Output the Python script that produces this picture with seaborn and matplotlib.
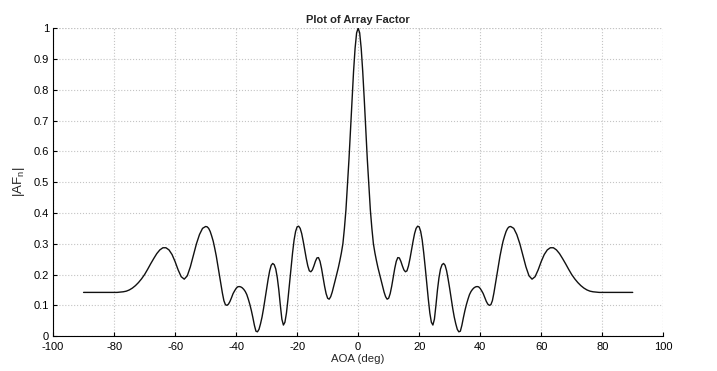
import matplotlib
matplotlib.use("Agg")
import matplotlib.pyplot as plt
import seaborn as sns
import pandas as pd

# Angle of arrival (deg) and |AF_n|
aoa_deg = [
    -90, -88, -86, -84, -82,
    -80, -79, -78, -77, -76, -75, -74, -73, -72, -71,
    -70, -69, -68, -67, -66, -65, -64, -63, -62, -61,
    -60, -59, -58, -57, -56, -55, -54, -53, -52, -51,
    -50, -49.5, -49, -48.5, -48, -47.5, -47, -46.5, -46, -45.5,
    -45, -44.5, -44, -43.5, -43, -42.5, -42, -41.5, -41, -40.5,
    -40, -39.5, -39, -38.5, -38, -37.5, -37, -36.5, -36, -35.5,
    -35, -34.5, -34, -33.5, -33, -32.5, -32, -31.5, -31, -30.5,
    -30, -29.5, -29, -28.5, -28, -27.5, -27, -26.5, -26, -25.5,
    -25, -24.5, -24, -23.5, -23, -22.5, -22, -21.5, -21, -20.5,
    -20, -19.5, -19, -18.5, -18, -17.5, -17, -16.5, -16, -15.5,
    -15, -14.5, -14, -13.5, -13, -12.5, -12, -11.5, -11, -10.5,
    -10, -9.5, -9, -8.5, -8, -7.5, -7, -6.5, -6, -5.5,
    -5, -4.5, -4, -3.5, -3, -2.5, -2, -1.5, -1, -0.5,
    0,
    0.5, 1, 1.5, 2, 2.5, 3, 3.5, 4, 4.5, 5,
    5.5, 6, 6.5, 7, 7.5, 8, 8.5, 9, 9.5, 10,
    10.5, 11, 11.5, 12, 12.5, 13, 13.5, 14, 14.5, 15,
    15.5, 16, 16.5, 17, 17.5, 18, 18.5, 19, 19.5, 20,
    20.5, 21, 21.5, 22, 22.5, 23, 23.5, 24, 24.5, 25,
    25.5, 26, 26.5, 27, 27.5, 28, 28.5, 29, 29.5, 30,
    30.5, 31, 31.5, 32, 32.5, 33, 33.5, 34, 34.5, 35,
    35.5, 36, 36.5, 37, 37.5, 38, 38.5, 39, 39.5, 40,
    40.5, 41, 41.5, 42, 42.5, 43, 43.5, 44, 44.5, 45,
    45.5, 46, 46.5, 47, 47.5, 48, 48.5, 49, 49.5, 50,
    51, 52, 53, 54, 55, 56, 57, 58, 59, 60,
    61, 62, 63, 64, 65, 66, 67, 68, 69, 70,
    71, 72, 73, 74, 75, 76, 77, 78, 79, 80,
    82, 84, 86, 88, 90,
]
af_mag = [
    0.142, 0.142, 0.142, 0.142, 0.142,
    0.142, 0.142, 0.143, 0.144, 0.146, 0.150, 0.156, 0.164, 0.174, 0.186,
    0.200, 0.217, 0.235, 0.252, 0.268, 0.280, 0.287, 0.287, 0.280, 0.265,
    0.242, 0.215, 0.193, 0.185, 0.196, 0.225, 0.262, 0.300, 0.330, 0.350,
    0.356, 0.355, 0.350, 0.340, 0.325, 0.308, 0.285, 0.260, 0.230, 0.200,
    0.170, 0.140, 0.115, 0.102, 0.100, 0.104, 0.113, 0.125, 0.138, 0.147,
    0.155, 0.160, 0.161, 0.160, 0.157, 0.152, 0.145, 0.135, 0.120, 0.103,
    0.083, 0.060, 0.035, 0.016, 0.014, 0.022, 0.040, 0.062, 0.090, 0.122,
    0.155, 0.185, 0.212, 0.230, 0.236, 0.232, 0.218, 0.190, 0.150, 0.100,
    0.055, 0.036, 0.045, 0.075, 0.120, 0.170, 0.222, 0.270, 0.312, 0.340,
    0.355, 0.357, 0.350, 0.333, 0.308, 0.280, 0.252, 0.228, 0.212, 0.209,
    0.215, 0.228, 0.243, 0.254, 0.255, 0.243, 0.220, 0.190, 0.162, 0.138,
    0.123, 0.120, 0.128, 0.143, 0.162, 0.182, 0.202, 0.222, 0.245, 0.270,
    0.300, 0.350, 0.410, 0.490, 0.575, 0.670, 0.770, 0.860, 0.935, 0.985,
    1.000,
    0.985, 0.935, 0.860, 0.770, 0.670, 0.575, 0.490, 0.410, 0.350, 0.300,
    0.270, 0.245, 0.222, 0.202, 0.182, 0.162, 0.143, 0.128, 0.120, 0.123,
    0.138, 0.162, 0.190, 0.220, 0.243, 0.255, 0.254, 0.243, 0.228, 0.215,
    0.209, 0.212, 0.228, 0.252, 0.280, 0.308, 0.333, 0.350, 0.357, 0.355,
    0.340, 0.312, 0.270, 0.222, 0.170, 0.120, 0.075, 0.045, 0.036, 0.055,
    0.100, 0.150, 0.190, 0.218, 0.232, 0.236, 0.230, 0.212, 0.185, 0.155,
    0.122, 0.090, 0.062, 0.040, 0.022, 0.014, 0.016, 0.035, 0.060, 0.083,
    0.103, 0.120, 0.135, 0.145, 0.152, 0.157, 0.160, 0.161, 0.160, 0.155,
    0.147, 0.138, 0.125, 0.113, 0.104, 0.100, 0.102, 0.115, 0.140, 0.170,
    0.200, 0.230, 0.260, 0.285, 0.308, 0.325, 0.340, 0.350, 0.355, 0.356,
    0.350, 0.330, 0.300, 0.262, 0.225, 0.196, 0.185, 0.193, 0.215, 0.242,
    0.265, 0.280, 0.287, 0.287, 0.280, 0.268, 0.252, 0.235, 0.217, 0.200,
    0.186, 0.174, 0.164, 0.156, 0.150, 0.146, 0.144, 0.143, 0.142, 0.142,
    0.142, 0.142, 0.142, 0.142, 0.142,
]
x_ticks = [-100, -80, -60, -40, -20, 0, 20, 40, 60, 80, 100]
y_ticks = [0, 0.1, 0.2, 0.3, 0.4, 0.5, 0.6, 0.7, 0.8, 0.9, 1]
y_tick_labels = ["0", "0.1", "0.2", "0.3", "0.4", "0.5", "0.6", "0.7", "0.8", "0.9", "1"]

sns.set_style("white")
plt.rcParams["font.family"] = ["Liberation Sans", "DejaVu Sans"]
plt.rcParams["mathtext.default"] = "regular"

df = pd.DataFrame({"aoa": aoa_deg, "af": af_mag})

fig = plt.figure(figsize=(7.17, 3.71), dpi=100)
ax = fig.add_axes([0.074, 0.094, 0.851, 0.830])

sns.lineplot(data=df, x="aoa", y="af", ax=ax, color="#111111", linewidth=1.0,
             sort=False, estimator=None)

ax.set_xlim(-100, 100)
ax.set_ylim(0, 1)
ax.set_xticks(x_ticks)
ax.set_xticklabels([str(t) for t in x_ticks])
ax.set_yticks(y_ticks)
ax.set_yticklabels(y_tick_labels)

ax.grid(True, color="#c4c4c4", linestyle=":", linewidth=0.8)
ax.set_axisbelow(True)

for side in ["top", "right"]:
    ax.spines[side].set_visible(False)
for side in ["left", "bottom"]:
    ax.spines[side].set_color("black")
    ax.spines[side].set_linewidth(0.8)

# right / top frame drawn as grid-like lines
ax.axvline(100, color="#c4c4c4", linestyle=":", linewidth=0.8, zorder=0)
ax.axhline(1, color="#c4c4c4", linestyle=":", linewidth=0.8, zorder=0)

ax.tick_params(axis="x", direction="in", length=3, width=0.8, labelsize=8,
               colors="black", pad=4, bottom=True)
ax.tick_params(axis="y", direction="in", length=3, width=0.8, labelsize=8,
               colors="black", pad=3, left=True)

ax.set_title("Plot of Array Factor", fontsize=8, fontweight="bold", pad=4)
ax.set_xlabel("AOA (deg)", fontsize=8.2, labelpad=2)
ax.set_ylabel("|AF$_{n}$|", fontsize=9.5, labelpad=5)

fig.savefig("out.png", dpi=100, facecolor="white")
